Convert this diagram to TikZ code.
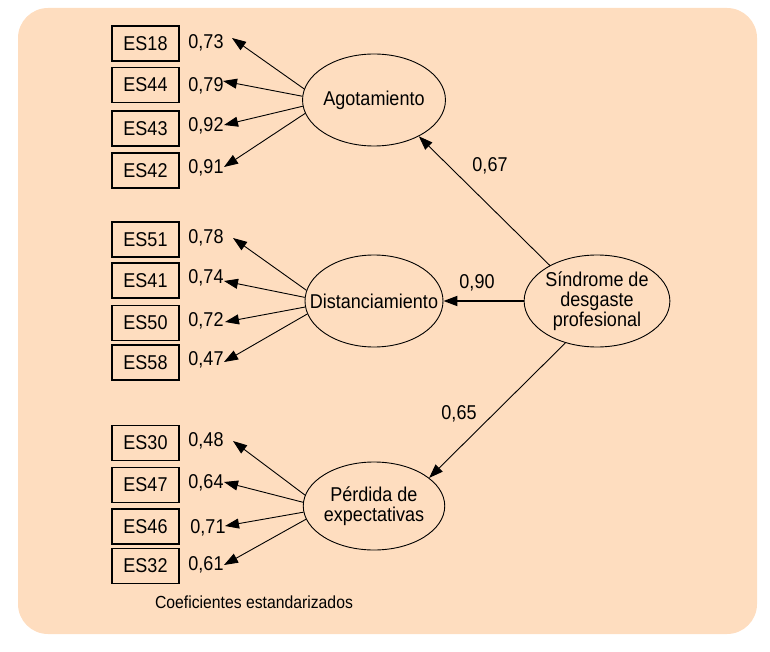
\documentclass[tikz,border=0pt]{standalone}
\usepackage{fontspec}
\setmainfont{Liberation Sans}[FakeStretch=0.9]
\usetikzlibrary{shapes.geometric,arrows.meta}
\definecolor{peach}{RGB}{254,221,191}
\tikzset{
  ind/.style={draw=black, line width=1.8pt, minimum width=67pt, minimum height=35pt, inner sep=0pt, font=\fontsize{20}{20}\selectfont},
  lat/.style={ellipse, draw=black, line width=0.9pt, minimum width=138pt, minimum height=92pt, inner sep=0pt, align=center, font=\fontsize{20}{20}\selectfont},
  num/.style={inner sep=0pt, font=\fontsize{20}{20}\selectfont},
  arr/.style={line width=0.9pt, -{Triangle[length=14pt,width=10pt]}},
}
\begin{document}
\begin{tikzpicture}[x=1pt,y=-1pt]
\useasboundingbox (0,0) rectangle (770,652);
\fill[peach, rounded corners=30pt] (18,8) rectangle (757,634);

% latent variables
\node[lat] (agot) at (374,100) {Agotamiento};
\node[lat] (dist) at (374,301) {\makebox[0pt][c]{Distanciamiento}};
\node[lat, minimum height=88pt] (perd) at (374,506) {P\'erdida de\\expectativas};
\node[lat] (sind) at (597,301) {S\'indrome de\\desgaste\\profesional};

% indicators group 1
\node[ind] (es18) at (145.5,43.5) {ES18};
\node[ind] (es44) at (145.5,85) {ES44};
\node[ind] (es43) at (145.5,128.5) {ES43};
\node[ind] (es42) at (145.5,170.5) {ES42};
\node[num] (n18) at (206,42.5) {0,73};
\node[num] (n44) at (206,86) {0,79};
\node[num] (n43) at (206,126) {0,92};
\node[num] (n42) at (206,167.5) {0,91};
\coordinate (t11) at (232,38);
\coordinate (t12) at (223,81);
\coordinate (t13) at (224,125);
\coordinate (t14) at (224,167);

% indicators group 2
\node[ind] (es51) at (145.5,239.5) {ES51};
\node[ind] (es41) at (145.5,280.5) {ES41};
\node[ind] (es50) at (145.5,323) {ES50};
\node[ind] (es58) at (145.5,362.5) {ES58};
\node[num] (n51) at (206,237.5) {0,78};
\node[num] (n41) at (206,277.5) {0,74};
\node[num] (n50) at (206,321) {0,72};
\node[num] (n58) at (206,360) {0,47};
\coordinate (t21) at (233,238);
\coordinate (t22) at (224,281);
\coordinate (t23) at (225,322);
\coordinate (t24) at (224,362);

% indicators group 3
\node[ind] (es30) at (145.5,443) {ES30};
\node[ind] (es47) at (145.5,485) {ES47};
\node[ind] (es46) at (145.5,526.5) {ES46};
\node[ind] (es32) at (145.5,566) {ES32};
\node[num] (n30) at (206,441) {0,48};
\node[num] (n47) at (206,482.5) {0,64};
\node[num] (n46) at (208,527.5) {0,71};
\node[num] (n32) at (206,565) {0,61};
\coordinate (t31) at (233,441);
\coordinate (t32) at (224,482);
\coordinate (t33) at (225,526);
\coordinate (t34) at (224,565);

% loadings arrows
\draw[arr] (agot.171) -- (t11);
\draw[arr] (agot.177) -- (t12);
\draw[arr] (agot.185) -- (t13);
\draw[arr] (agot.191) -- (t14);
\draw[arr] (dist.171) -- (t21);
\draw[arr] (dist.177) -- (t22);
\draw[arr] (dist.185) -- (t23);
\draw[arr] (dist.191) -- (t24);
\draw[arr] (perd.171) -- (t31);
\draw[arr] (perd.177) -- (t32);
\draw[arr] (perd.185) -- (t33);
\draw[arr] (perd.191) -- (t34);

% second-order arrows
\draw[arr] (sind.143) -- (agot.-39);
\draw[arr, line width=1.8pt] (sind.west) -- (dist.east);
\draw[arr] (sind.233) -- (perd.27);
\node[num] (c67) at (490,166) {0,67};
\node[num] (c90) at (477,282.5) {0,90};
\node[num] (c65) at (459,414) {0,65};

\node[inner sep=0pt, font=\fontsize{17.5}{17.5}\selectfont] (foot) at (254,602) {Coeficientes estandarizados};
\end{tikzpicture}
\end{document}
